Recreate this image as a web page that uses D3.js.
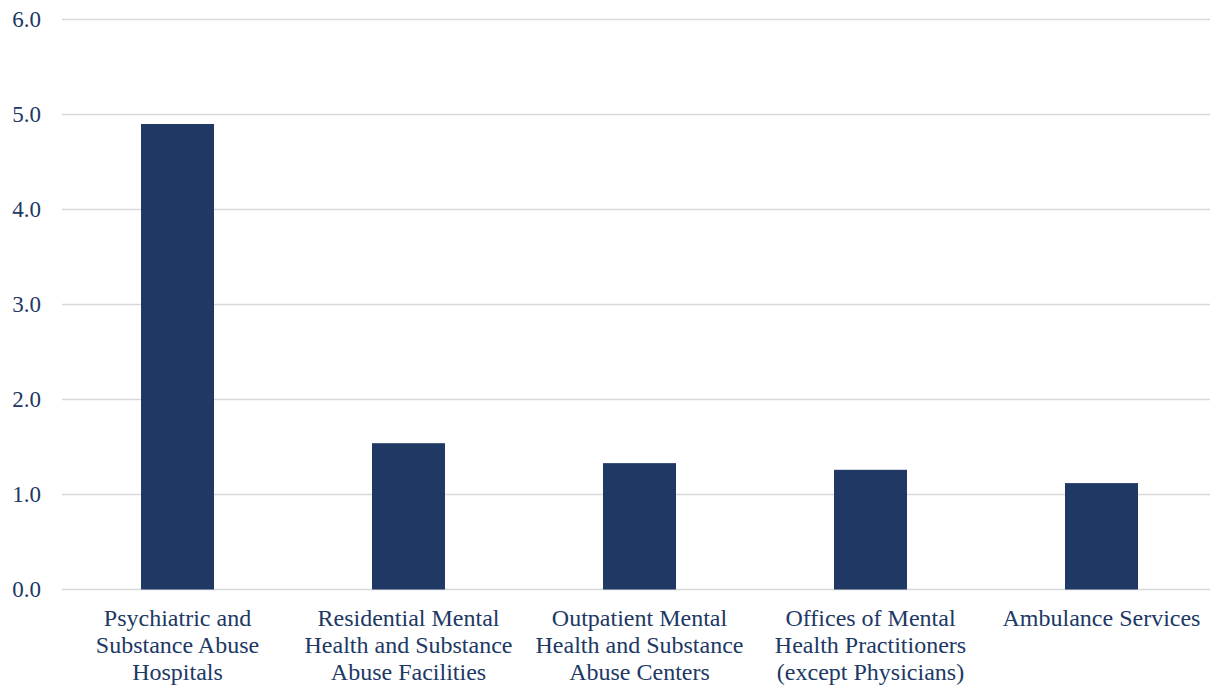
<!DOCTYPE html>
<html>
<head>
<meta charset="utf-8">
<script src="https://cdn.jsdelivr.net/npm/d3@7"></script>
<style>
  body { margin: 0; background: #fff; }
  svg { display: block; }
</style>
</head>
<body>
<div id="chart"></div>
<script>
"use strict";

const categories = [
    ["Psychiatric and", "Substance Abuse", "Hospitals"],
    ["Residential Mental", "Health and Substance", "Abuse Facilities"],
    ["Outpatient Mental", "Health and Substance", "Abuse Centers"],
    ["Offices of Mental", "Health Practitioners", "(except Physicians)"],
    ["Ambulance Services"]
];
const values = [4.9, 1.54, 1.33, 1.26, 1.12];
const yTicks = [0, 1, 2, 3, 4, 5, 6];

const width = 1210, height = 686;
const margin = {top: 19.5, right: -7, bottom: 96.5, left: 62};
const navy = "#203864";
const font = "'Liberation Serif', 'Times New Roman', serif";

const svg = d3.select("#chart").append("svg")
    .attr("width", width)
    .attr("height", height);

const x = d3.scaleBand()
    .domain(d3.range(values.length))
    .range([margin.left, width - margin.right])
    .paddingInner(0.684)
    .paddingOuter(0.342);

const y = d3.scaleLinear()
    .domain([0, 6])
    .range([height - margin.bottom, margin.top]);

// gridlines
svg.append("g")
    .selectAll("line")
    .data(yTicks)
    .join("line")
    .attr("x1", margin.left)
    .attr("x2", width)
    .attr("y1", d => y(d))
    .attr("y2", d => y(d))
    .attr("stroke", "#d9d9d9")
    .attr("stroke-width", 1.5);

// y labels
svg.append("g")
    .style("font-family", font)
    .style("font-size", "23px")
    .attr("fill", navy)
    .attr("text-anchor", "end")
    .selectAll("text")
    .data(yTicks)
    .join("text")
    .attr("x", 41)
    .attr("y", d => y(d) + 7.5)
    .text(d => d.toFixed(1));

// bars
svg.append("g")
    .selectAll("rect")
    .data(values)
    .join("rect")
    .attr("fill", navy)
    .attr("x", (d, i) => x(i))
    .attr("width", x.bandwidth())
    .attr("y", d => y(d))
    .attr("height", d => y(0) - y(d));

// category labels
svg.append("g")
    .style("font-family", font)
    .style("font-size", "24px")
    .attr("fill", navy)
    .attr("text-anchor", "middle")
    .selectAll("text")
    .data(categories)
    .join("text")
    .attr("transform", (d, i) => `translate(${x(i) + x.bandwidth() / 2},${y(0) + 36})`)
    .selectAll("tspan")
    .data(d => d)
    .join("tspan")
    .attr("x", 0)
    .attr("y", (d, i) => i * 27)
    .text(d => d);
</script>
</body>
</html>
